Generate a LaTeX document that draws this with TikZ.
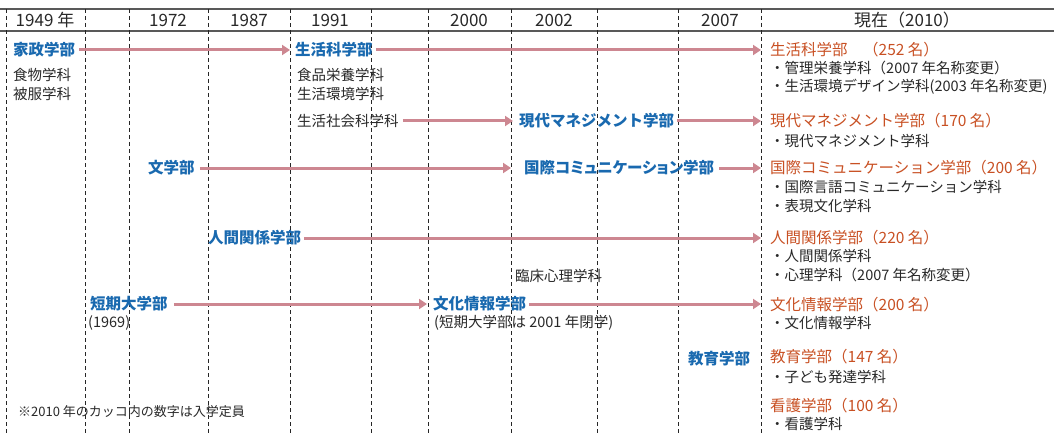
\documentclass[tikz,border=0pt]{standalone}
\usepackage{fontspec}
\setmainfont{Noto Sans CJK JP}
\usetikzlibrary{arrows.meta}
\definecolor{fblue}{RGB}{25,105,175}
\definecolor{forange}{RGB}{200,80,35}
\definecolor{farrow}{RGB}{205,135,145}
\definecolor{ftext}{RGB}{40,40,40}
\begin{document}
\begin{tikzpicture}[x=1pt,y=-1pt,
 year/.style={font=\fontsize{17}{17}\selectfont, text=ftext, inner sep=0},
 fac/.style={anchor=west, inner sep=0, font=\fontsize{15.5}{15.5}\selectfont\bfseries, text=fblue},
 now/.style={anchor=west, inner sep=0, font=\fontsize{15.5}{15.5}\selectfont, text=forange},
 dept/.style={anchor=west, inner sep=0, font=\fontsize{14.5}{14.5}\selectfont, text=ftext},
 note/.style={anchor=west, inner sep=0, font=\fontsize{13}{13}\selectfont, text=ftext},
 flow/.style={farrow, line width=3pt, -{Triangle[length=8pt,width=10pt]}},
 gridline/.style={dash pattern=on 4pt off 3pt, line width=0.8pt, black!85},
 rule/.style={line width=1.3pt, black!65}
]
\useasboundingbox (0,0) rectangle (1054,433);
\draw[rule] (0,9) -- (1054,9);
\draw[rule] (0,31) -- (1054,31);
\foreach \x in {6,85,129,208,290,371,428,511,597,678,761}
  \draw[gridline] (\x,9) -- (\x,433);
% header
\node[year] (y1949) at (45,20) {1949 年};
\node[year] (y1972) at (168,20) {1972};
\node[year] (y1987) at (249,20) {1987};
\node[year] (y1991) at (330,20) {1991};
\node[year] (y2000) at (469,20) {2000};
\node[year] (y2002) at (554,20) {2002};
\node[year] (y2007) at (720,20) {2007};
\node[year] (y2010) at (907,20) {現在（2010）};
% row 1
\node[fac] (kasei) at (13,50) {家政学部};
\node[dept] (kasei1) at (13,75) {食物学科};
\node[dept] (kasei2) at (13,94) {被服学科};
\node[fac] (seikatsu) at (295,50) {生活科学部};
\node[dept] (seik1) at (297,75) {食品栄養学科};
\node[dept] (seik2) at (297,94) {生活環境学科};
\node[now] (nseik) at (770,50) {生活科学部　（252 名）};
\node[dept] (nseik1) at (770,68) {・管理栄養学科（2007 年名称変更）};
\node[dept] (nseik2) at (770,87) {・生活環境デザイン学科(2003 年名称変更)};
% row 2
\node[dept] (shakai) at (297,121) {生活社会科学科};
\node[fac] (gendai) at (519,121) {現代マネジメント学部};
\node[now] (ngendai) at (770,121) {現代マネジメント学部（170 名）};
\node[dept] (ngendai1) at (770,141) {・現代マネジメント学科};
% row 3
\node[fac] (bun) at (148,168) {文学部};
\node[fac] (kokusai) at (524,168) {\addfontfeature{RawFeature=+palt}国際コミュニケーション学部};
\node[now] (nkokusai) at (770,168) {国際コミュニケーション学部（200 名）};
\node[dept] (nkokusai1) at (770,187) {・国際言語コミュニケーション学科};
\node[dept] (nkokusai2) at (770,206) {・表現文化学科};
% row 4
\node[fac] (ningen) at (208,238) {人間関係学部};
\node[now] (nningen) at (770,238) {人間関係学部（220 名）};
\node[dept] (nningen1) at (770,256) {・人間関係学科};
\node[dept] (nningen2) at (770,275) {・心理学科（2007 年名称変更）};
\node[dept] (rinsho) at (515,276) {臨床心理学科};
% row 5
\node[fac] (tandai) at (90,304) {短期大学部};
\node[dept] (tandai1) at (88,323) {(1969)};
\node[fac] (bunka) at (433,304) {文化情報学部};
\node[dept] (bunka1) at (434,323) {(短期大学部は 2001 年閉学)};
\node[now] (nbunka) at (770,305) {文化情報学部（200 名）};
\node[dept] (nbunka1) at (770,323) {・文化情報学科};
% row 6
\node[fac] (kyoiku) at (688,359) {教育学部};
\node[now] (nkyoiku) at (770,357) {教育学部（147 名）};
\node[dept] (nkyoiku1) at (770,377) {・子ども発達学科};
% row 7
\node[now] (nkango) at (770,406) {看護学部（100 名）};
\node[dept] (nkango1) at (770,424) {・看護学科};
\node[note] (foot) at (18,412) {※2010 年のカッコ内の数字は入学定員};
% arrows
\draw[flow, shorten <=4pt, shorten >=5pt] (kasei.east) -- (kasei.east -| seikatsu.west);
\draw[flow, shorten <=3pt, shorten >=9pt] (seikatsu.east) -- (seikatsu.east -| nseik.west);
\draw[flow, shorten <=4pt, shorten >=6pt] (shakai.east) -- (shakai.east -| gendai.west);
\draw[flow, shorten <=3pt, shorten >=9pt] (gendai.east) -- (gendai.east -| ngendai.west);
\draw[flow, shorten <=5pt, shorten >=13pt] (bun.east) -- (bun.east -| kokusai.west);
\draw[flow, shorten <=5pt, shorten >=9pt] (kokusai.east) -- (kokusai.east -| nkokusai.west);
\draw[flow, shorten <=3pt, shorten >=9pt] (ningen.east) -- (ningen.east -| nningen.west);
\draw[flow, shorten <=6pt, shorten >=6pt] (tandai.east) -- (tandai.east -| bunka.west);
\draw[flow, shorten <=3pt, shorten >=9pt] (bunka.east) -- (bunka.east -| nbunka.west);
\end{tikzpicture}
\end{document}
